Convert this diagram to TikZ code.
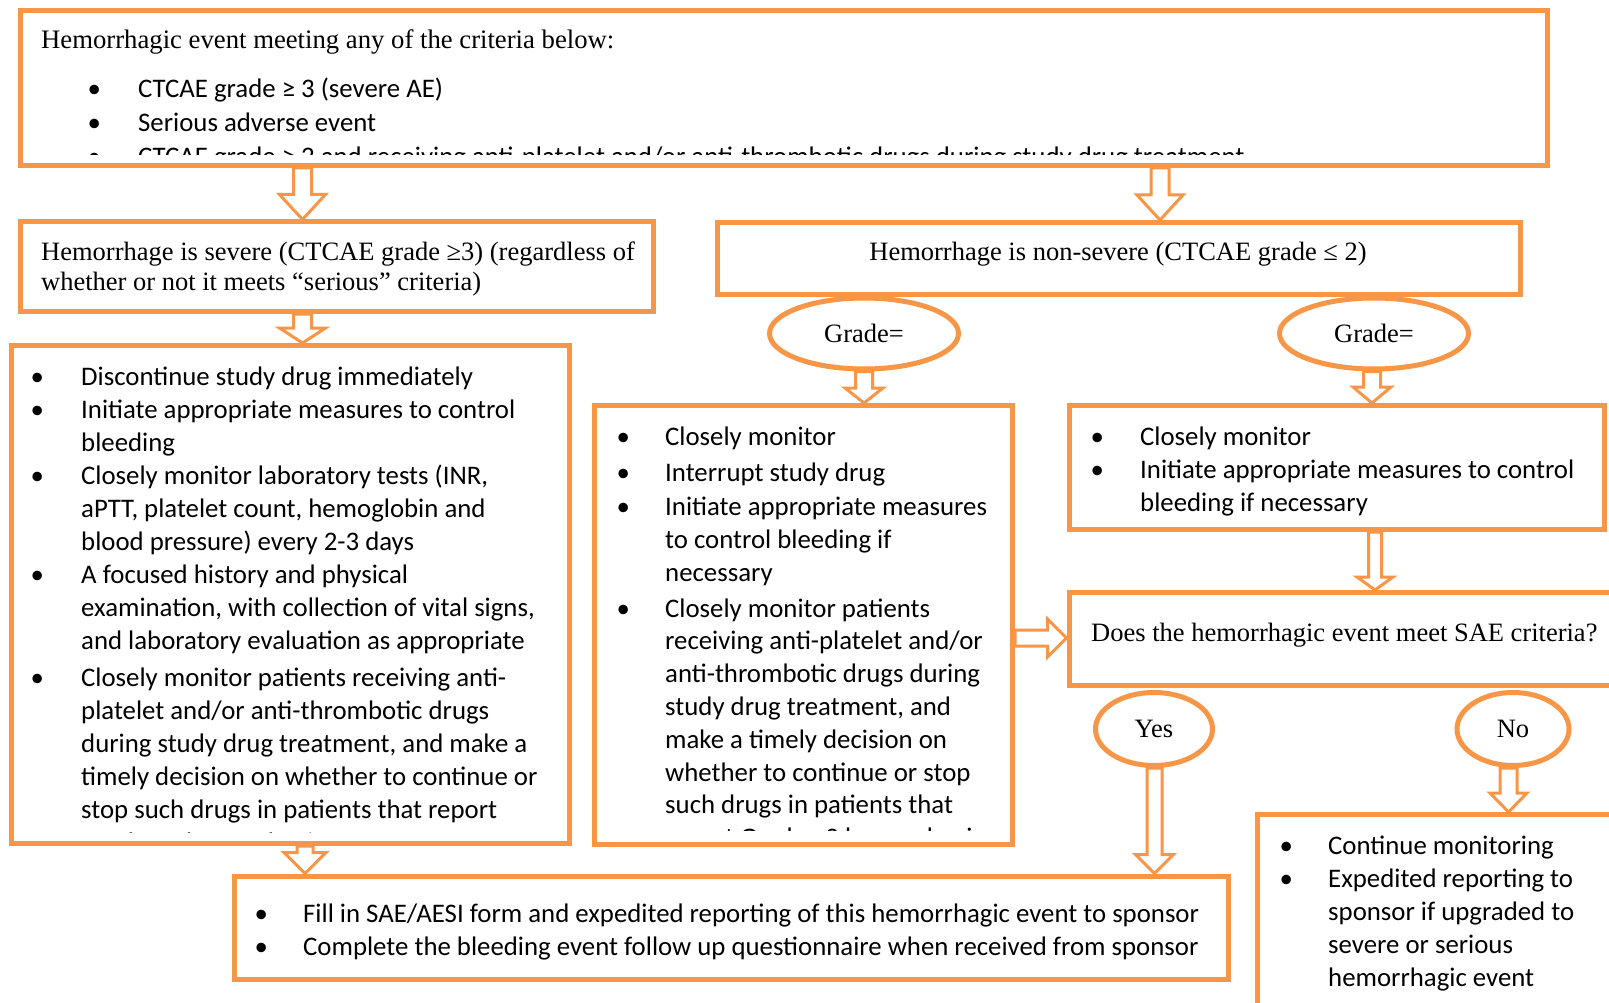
\documentclass[tikz,border=0pt]{standalone}
\usepackage{fontspec}
\setmainfont{Liberation Serif}
\newfontfamily\calib{Carlito}
\usetikzlibrary{shapes.geometric,calc}
\definecolor{ocol}{HTML}{F79646}
\pgfdeclarelayer{bg}
\pgfsetlayers{bg,main}
\newcommand\bul{\makebox[0pt]{\textbullet}}
% vertical hollow connector: #1 x, #2 source anchor, #3 target anchor, #4 shaft half, #5 head half, #6 head length
\newcommand\vconn[6]{%
\draw[hollow] let \p1=(#2), \p2=(#3) in
 ({#1pt-#4pt},\y1) -- ({#1pt-#4pt},{\y2+#6pt}) -- ({#1pt-#5pt},{\y2+#6pt}) -- (#1pt,\y2) --
 ({#1pt+#5pt},{\y2+#6pt}) -- ({#1pt+#4pt},{\y2+#6pt}) -- ({#1pt+#4pt},\y1) -- cycle;}
% horizontal hollow connector: #1 y (layout), #2 source, #3 target, #4 shaft half, #5 head half, #6 head length
\newcommand\hconn[6]{%
\draw[hollow] let \p1=(#2), \p2=(#3) in
 (\x1,{-#1pt+#4pt}) -- ({\x2-#6pt},{-#1pt+#4pt}) -- ({\x2-#6pt},{-#1pt+#5pt}) -- (\x2,-#1pt) --
 ({\x2-#6pt},{-#1pt-#5pt}) -- ({\x2-#6pt},{-#1pt-#4pt}) -- (\x1,{-#1pt-#4pt}) -- cycle;}
\tikzset{
 box/.style={draw=ocol, line width=5pt, fill=white, rectangle, inner sep=0pt},
 oval/.style={draw=ocol, line width=5pt, fill=white, ellipse, inner sep=0pt, font=\fontsize{26.5}{30}\selectfont},
 hollow/.style={draw=ocol, line width=3pt, fill=white, line join=miter},
 serif/.style={inner sep=0pt, font=\fontsize{26.5}{30}\selectfont},
 blist/.style={inner sep=0pt, anchor=base west, font=\calib\fontsize{26.8}{33}\selectfont},
}
\begin{document}
\begin{tikzpicture}[x=1pt,y=-1pt]
\useasboundingbox (0,0) rectangle (1609,1003);
\begin{pgfonlayer}{bg}\fill[white] (0,0) rectangle (1609,1003);\end{pgfonlayer}
\clip (0,0) rectangle (1609,1003);

% boxes
\node[box, minimum width=1526.5pt, minimum height=155pt] (top) at (783.75,88) {};
\node[box, minimum width=632.5pt, minimum height=89.5pt] (sev) at (336.75,266.75) {};
\node[box, minimum width=803pt, minimum height=72pt] (nons) at (1118.5,258.5) {};
\node[box, minimum width=558.5pt, minimum height=498pt] (lbox) at (290.25,594.5) {};
\node[box, minimum width=418pt, minimum height=439pt] (mbox) at (803.5,625) {};
\node[box, minimum width=535pt, minimum height=124pt] (rbox) at (1337,467.5) {};
\node[box, minimum width=571pt, minimum height=93pt] (sae) at (1354.5,639) {};
\node[box, minimum width=382.5pt, minimum height=215.5pt] (cont) at (1448.75,922.25) {};
\node[box, minimum width=994pt, minimum height=103.5pt] (bot) at (731,927.75) {};

% ellipses
\node[oval, minimum width=189pt, minimum height=71pt] (gl) at (864,333.5) {Grade=};
\node[oval, minimum width=189pt, minimum height=71pt] (gr) at (1374,333.5) {Grade=};
\node[oval, minimum width=117pt, minimum height=73pt] (yes) at (1154,729) {Yes};
\node[oval, minimum width=112pt, minimum height=73pt] (no) at (1513,729) {No};

% texts
\node[serif, anchor=base west, font=\fontsize{26.7}{30}\selectfont] (ttl) at (41,49) {Hemorrhagic event meeting any of the criteria below:};
\begin{scope}
\clip (23,13) rectangle (1544,155);
\node[blist, font=\calib\fontsize{26.8}{34}\selectfont] (tl) at (94,98) {\begin{tabular}[t]{@{}p{44pt}@{}p{1400pt}@{}}
\bul & CTCAE grade ≥ 3 (severe AE)\\
\bul & Serious adverse event\\
\bul & CTCAE grade ≥ 2 and receiving anti-platelet and/or anti-thrombotic drugs during study drug treatment
\end{tabular}};
\end{scope}

\node[serif, anchor=base west] (sv1) at (41,260) {Hemorrhage is severe (CTCAE grade ≥3) (regardless of};
\node[serif, anchor=base west] (sv2) at (41,290) {whether or not it meets “serious” criteria)};
\node[serif, anchor=base] (ns) at (1118,261) {Hemorrhage is non-severe (CTCAE grade ≤ 2)};

\begin{scope}
\clip (14,349) rectangle (566,832);
\node[blist] (ll) at (37,385.5) {\begin{tabular}[t]{@{}p{44pt}@{}p{480pt}@{}}
\bul & Discontinue study drug immediately\\
\bul & Initiate appropriate measures to control\newline bleeding\\
\bul & Closely monitor laboratory tests (INR,\newline aPTT, platelet count, hemoglobin and\newline blood pressure) every 2-3 days\\
\bul & A focused history and physical\newline examination, with collection of vital signs,\newline and laboratory evaluation as appropriate\\\noalign{\vskip4pt}
\bul & Closely monitor patients receiving anti-\newline platelet and/or anti-thrombotic drugs\newline during study drug treatment, and make a\newline timely decision on whether to continue or\newline stop such drugs in patients that report\newline Grade ≥2 hemorrhagic events
\end{tabular}};
\end{scope}

\begin{scope}
\clip (598,409) rectangle (1009,830);
\node[blist, font=\calib\fontsize{26.8}{32.8}\selectfont] (ml) at (623,445) {\begin{tabular}[t]{@{}p{42pt}@{}p{360pt}@{}}
\bul & Closely monitor\\\noalign{\vskip4pt}
\bul & Interrupt study drug\\\noalign{\vskip1pt}
\bul & Initiate appropriate measures\newline to control bleeding if\newline necessary\\\noalign{\vskip3pt}
\bul & Closely monitor patients\newline receiving anti-platelet and/or\newline anti-thrombotic drugs during\newline study drug treatment, and\newline make a timely decision on\newline whether to continue or stop\newline such drugs in patients that\newline report Grade ≥2 hemorrhagic
\end{tabular}};
\end{scope}

\node[blist] (rl) at (1097,445) {\begin{tabular}[t]{@{}p{43pt}@{}p{460pt}@{}}
\bul & Closely monitor\\
\bul & Initiate appropriate measures to control\newline bleeding if necessary
\end{tabular}};

\node[serif, anchor=base west] (saet) at (1091,641) {Does the hemorrhagic event meet SAE criteria?};

\node[blist, font=\calib\fontsize{26.8}{33}\selectfont] (cl) at (1286,854) {\begin{tabular}[t]{@{}p{42pt}@{}p{300pt}@{}}
\bul & Continue monitoring\\
\bul & Expedited reporting to\newline sponsor if upgraded to\newline severe or serious\newline hemorrhagic event
\end{tabular}};

\node[blist] (bl) at (261,922) {\begin{tabular}[t]{@{}p{42pt}@{}p{920pt}@{}}
\bul & Fill in SAE/AESI form and expedited reporting of this hemorrhagic event to sponsor\\
\bul & Complete the bleeding event follow up questionnaire when received from sponsor
\end{tabular}};

% connectors
\begin{pgfonlayer}{bg}
\vconn{302.5}{top.south}{sev.north}{9}{23}{25}
\vconn{1160}{top.south}{nons.north}{9}{23}{25}
\vconn{302.5}{sev.south}{lbox.north}{9}{23}{15}
\vconn{864}{gl.south}{mbox.north}{8.5}{19}{15}
\vconn{1372}{gr.south}{rbox.north}{8.5}{19}{16}
\vconn{1375}{rbox.south}{sae.north}{6.5}{18}{13}
\hconn{638}{mbox.east}{sae.west}{8}{19}{19}
\vconn{1154.5}{yes.south}{bot.north}{7.5}{19}{19}
\vconn{1508.5}{no.south}{cont.north}{8.5}{18.5}{19}
\vconn{305}{lbox.south}{bot.north}{8}{21}{21}
\end{pgfonlayer}
\end{tikzpicture}
\end{document}
